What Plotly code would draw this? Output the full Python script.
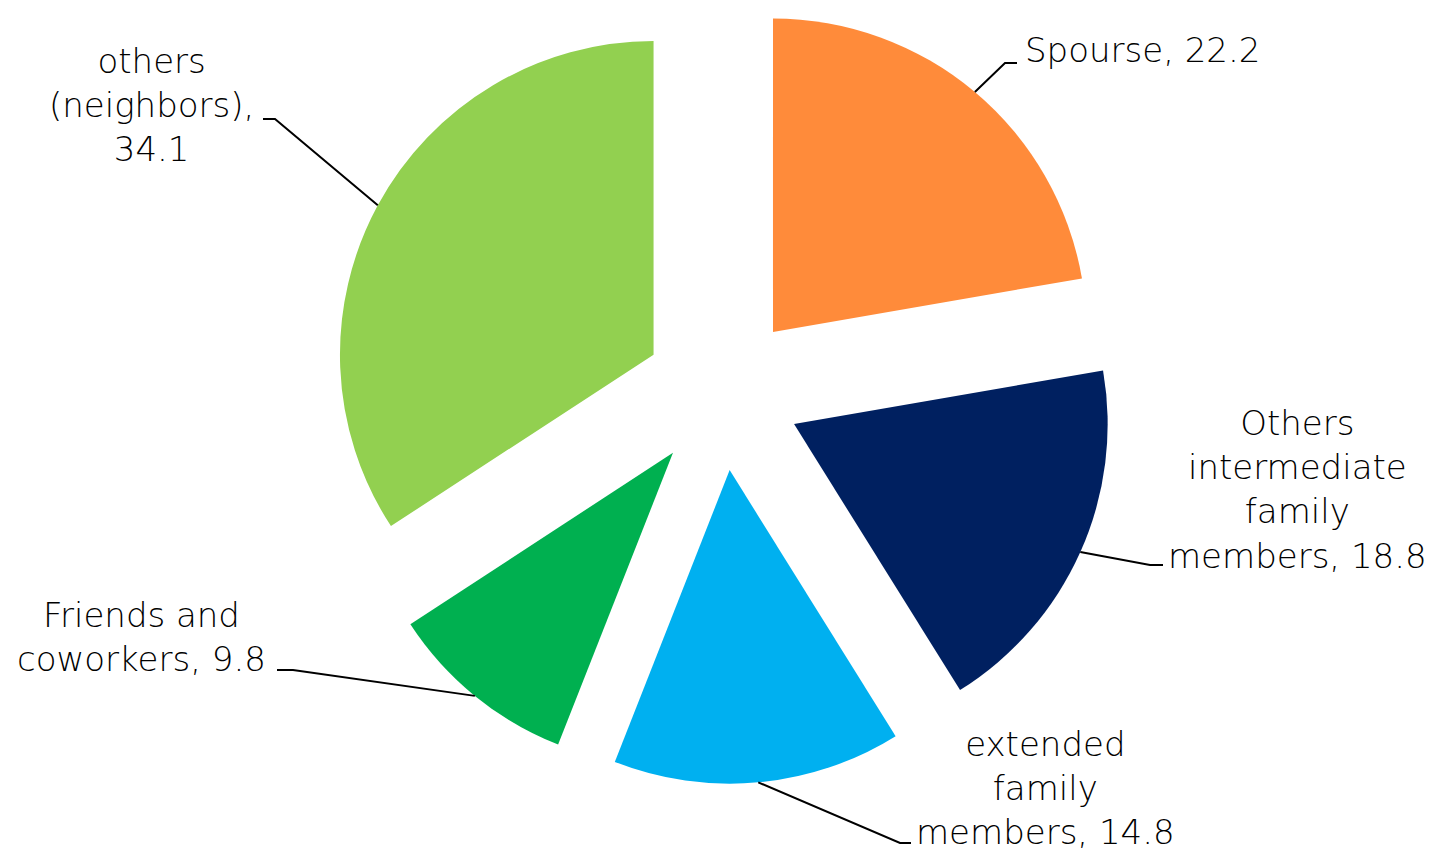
import math
import plotly.graph_objects as go

# ---------------- data ----------------
labels = ["Spourse", "Others intermediate family members", "extended family members",
          "Friends and coworkers", "others (neighbors)"]
values = [22.2, 18.8, 14.8, 9.8, 34.1]
label_display = ["Spourse", "Others<br>intermediate<br>family<br>members", "extended<br>family<br>members",
                 "Friends and<br>coworkers", "others<br>(neighbors)"]
label_seps = [", ", ", ", ", ", ", ", ",<br>"]
colors = ["#FF8B3A", "#002060", "#00B0F0", "#00B050", "#92D050"]

# ---------------- layout constants (pixels) ----------------
W, H = 1439, 854
PULL = 0.25
CX = 722.5
BOX_H = 784
BOX_W = 800
# label text centres and leader-line elbow / end points
text_pos = [(1142, 50), (1297, 489), (1045, 788), (141, 637), (151, 105)]
elbows = [(1005, 63), (1150, 565), (900, 843), (293, 670), (275, 119)]
ends = [(1017, 63), (1163, 565), (911, 843), (277, 670), (263, 119)]

dom_x = [(CX - BOX_W / 2) / W, (CX + BOX_W / 2) / W]
dom_y = [1 - BOX_H / H, 1]

fig = go.Figure(go.Pie(
    labels=labels, values=values, sort=False, direction="clockwise", rotation=0,
    pull=[PULL] * len(values), marker=dict(colors=colors, line=dict(width=0)),
    textinfo="none", hoverinfo="label+value", showlegend=False,
    domain=dict(x=dom_x, y=dom_y),
))

# geometry as plotly computes it
r = min(BOX_W, BOX_H) / (2 + 2 * PULL)
cx = W * (dom_x[0] + dom_x[1]) / 2
cy = H * (1 - dom_y[0]) - BOX_H / 2


def px2paper(x, y):
    return x / W, 1 - y / H


total = sum(values)
cum = 0
shapes = []
annotations = []
for i, v in enumerate(values):
    mid = (cum + v / 2) / total
    cum += v
    th = 2 * math.pi * mid
    dx, dy = math.sin(th), -math.cos(th)
    ax = cx + (1 + PULL) * r * dx
    ay = cy + (1 + PULL) * r * dy
    p0 = px2paper(ax, ay)
    p1 = px2paper(*elbows[i])
    p2 = px2paper(*ends[i])
    shapes.append(dict(type="path", xref="paper", yref="paper",
                       path=f"M {p0[0]},{p0[1]} L {p1[0]},{p1[1]} L {p2[0]},{p2[1]}",
                       line=dict(color="black", width=2)))
    tx, ty = px2paper(*text_pos[i])
    annotations.append(dict(xref="paper", yref="paper", x=tx, y=ty, showarrow=False,
                            xanchor="center", yanchor="middle", align="center",
                            text=f"{label_display[i]}{label_seps[i]}{v}",
                            font=dict(family="DejaVu Sans", size=34, color="black", weight=300)))

fig.update_layout(width=W, height=H, margin=dict(l=0, r=0, t=0, b=0),
                  paper_bgcolor="white", plot_bgcolor="white",
                  shapes=shapes, annotations=annotations)

fig.write_html("out.html", config={"displayModeBar": False},
               post_script="document.body.style.margin='0';document.body.style.overflow='hidden';")
